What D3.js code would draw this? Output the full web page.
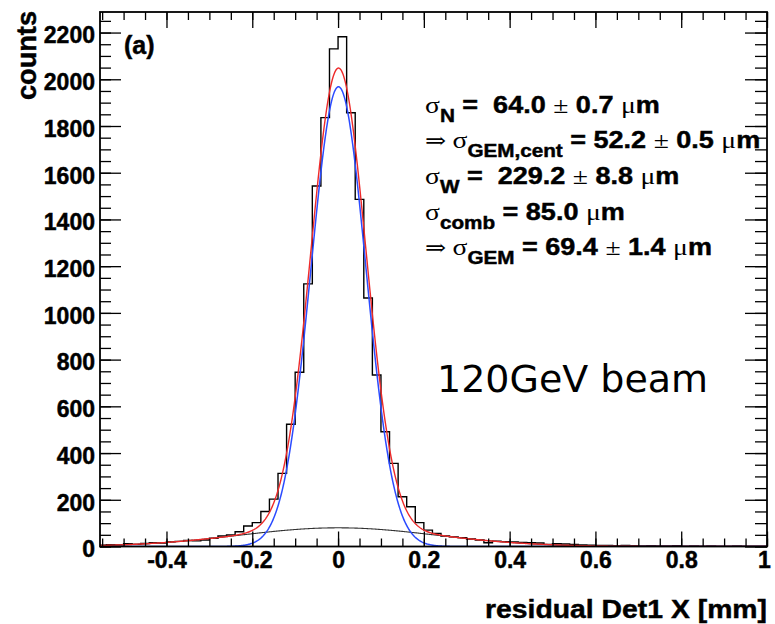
<!DOCTYPE html>
<html><head><meta charset="utf-8">
<script src="https://cdn.jsdelivr.net/npm/d3@7/dist/d3.min.js"></script>
<style>body{margin:0;background:#fff}svg{display:block}</style>
</head><body>
<svg id="c" width="775" height="624"></svg>
<script>
// ---------- data ----------
const binStart = -0.56;
const binWidth = 0.02;
const counts = [
  6, 8, 7, 12, 9, 13, 16, 15, 20, 22, 26, 24, 28, 35, 45, 49, 63, 88, 102, 150,
  203, 313, 523, 746, 1124, 1543, 1836, 2130,
  2182, 1857, 1486, 1064, 734, 491, 356, 213, 170, 102, 70, 56, 45, 41, 38, 32,
  28, 16, 23, 21, 20, 17, 16, 15, 9, 12, 11, 9, 7, 6, 4, 5, 3, 4, 3, 2, 3, 2, 2,
  3, 1, 2, 1, 2, 1, 1, 2, 1, 1, 1
];
const fitNarrow = { amp: 1968, mean: 0.001, sigma: 0.064 };
const fitWide   = { amp: 80,   mean: 0.0,   sigma: 0.229 };
const yTicks = [0, 200, 400, 600, 800, 1000, 1200, 1400, 1600, 1800, 2000, 2200];
const xTicks = [-0.4, -0.2, 0, 0.2, 0.4, 0.6, 0.8, 1.0];
const xTickLabels = ["-0.4", "-0.2", "0", "0.2", "0.4", "0.6", "0.8", "1"];
const xTitle = "residual Det1 X [mm]";
const yTitle = "counts";
const panelLabel = "(a)";
const beamLabel = "120GeV beam";
// annotation lines: s = symbol (serif), b = bold sans, sub = subscript
const annLines = [
  [["σ","s"],["N","sub"],[" =  64.0 ","b"],["±","s"],[" 0.7 ","b"],["μ","s"],["m","b"]],
  [["⇒ ","s"],["σ","s"],["GEM,cent","sub"],[" = 52.2 ","b"],["±","s"],[" 0.5 ","b"],["μ","s"],["m","b"]],
  [["σ","s"],["W","sub"],[" =  229.2 ","b"],["±","s"],[" 8.8 ","b"],["μ","s"],["m","b"]],
  [["σ","s"],["comb","sub"],[" = 85.0 ","b"],["μ","s"],["m","b"]],
  [["⇒ ","s"],["σ","s"],["GEM","sub"],[" = 69.4 ","b"],["±","s"],[" 1.4 ","b"],["μ","s"],["m","b"]]
];

// ---------- layout ----------
const P = { left: 100, right: 767, top: 12, bottom: 546.5 };
const SANS = "'Liberation Sans', Arial, Helvetica, sans-serif";
const SERIF = "'Liberation Serif', 'DejaVu Serif', serif";

const x = d3.scaleLinear().domain([-0.555, 1.0]).range([P.left, P.right]);
const y = d3.scaleLinear().domain([0, 2288]).range([P.bottom, P.top]);

const svg = d3.select("#c");
svg.append("rect").attr("width", 775).attr("height", 624).attr("fill", "#fff");
svg.append("defs").append("clipPath").attr("id", "clip")
  .append("rect").attr("x", P.left).attr("y", P.top)
  .attr("width", P.right - P.left).attr("height", P.bottom - P.top);

// histogram
const pts = [];
counts.forEach((c, i) => {
  const x0 = binStart + i * binWidth;
  pts.push([x0, c], [x0 + binWidth, c]);
});
const line = d3.line().x(d => x(d[0])).y(d => y(d[1]));
const gPlot = svg.append("g").attr("clip-path", "url(#clip)");
gPlot.append("path").attr("d", line(pts)).attr("fill", "none")
  .attr("stroke", "#000").attr("stroke-width", 1.4);

// fit curves
const gauss = (p, v) => p.amp * Math.exp(-((v - p.mean) ** 2) / (2 * p.sigma * p.sigma));
const xs = d3.range(-0.555, 1.0005, 0.0015);
const curve = f => d3.line().x(v => x(v)).y(v => y(f(v))).curve(d3.curveLinear)(xs);
gPlot.append("path").attr("d", curve(v => gauss(fitWide, v))).attr("fill", "none")
  .attr("stroke", "#333").attr("stroke-width", 1.1);
gPlot.append("path").attr("d", curve(v => gauss(fitNarrow, v))).attr("fill", "none")
  .attr("stroke", "#2b4bff").attr("stroke-width", 1.5);
gPlot.append("path").attr("d", curve(v => gauss(fitNarrow, v) + gauss(fitWide, v))).attr("fill", "none")
  .attr("stroke", "#ee2a2a").attr("stroke-width", 1.4);

// axes
const minorX = d3.range(-0.55, 1.0001, 0.05).map(v => +v.toFixed(2));
const minorY = d3.range(0, 2251, 50);
function styleAxis(g) {
  g.select(".domain").remove();
  g.selectAll("line").attr("stroke", "#000").attr("stroke-width", 1.3);
}
function heavy(sel) {
  sel.attr("stroke", "#000").attr("stroke-width", 0.45).attr("paint-order", "stroke");
}
// bottom
svg.append("g").attr("transform", `translate(0,${P.bottom})`)
  .call(d3.axisBottom(x).tickValues(minorX).tickSize(-8).tickFormat("")).call(styleAxis);
const gxb = svg.append("g").attr("transform", `translate(0,${P.bottom})`)
  .call(d3.axisBottom(x).tickValues(xTicks).tickSize(-15).tickPadding(5)
    .tickFormat((d, i) => xTickLabels[i])).call(styleAxis);
gxb.selectAll("text").attr("font-family", SANS).attr("font-weight", "bold")
  .attr("font-size", 23).attr("fill", "#000").call(heavy);
gxb.selectAll("text").filter(d => d === 1.0).attr("dx", -3);
// top
svg.append("g").attr("transform", `translate(0,${P.top})`)
  .call(d3.axisTop(x).tickValues(minorX).tickSize(-8).tickFormat("")).call(styleAxis);
svg.append("g").attr("transform", `translate(0,${P.top})`)
  .call(d3.axisTop(x).tickValues(xTicks).tickSize(-16).tickFormat("")).call(styleAxis);
// left
svg.append("g").attr("transform", `translate(${P.left},0)`)
  .call(d3.axisLeft(y).tickValues(minorY).tickSize(-11).tickFormat("")).call(styleAxis);
const gyl = svg.append("g").attr("transform", `translate(${P.left},0)`)
  .call(d3.axisLeft(y).tickValues(yTicks).tickSize(-21).tickPadding(5).tickFormat(d3.format("d")))
  .call(styleAxis);
gyl.selectAll("text").attr("font-family", SANS).attr("font-weight", "bold")
  .attr("font-size", 23).attr("fill", "#000").attr("dy", "0.45em").call(heavy);
// right
svg.append("g").attr("transform", `translate(${P.right},0)`)
  .call(d3.axisRight(y).tickValues(minorY).tickSize(-12).tickFormat("")).call(styleAxis);
svg.append("g").attr("transform", `translate(${P.right},0)`)
  .call(d3.axisRight(y).tickValues(yTicks).tickSize(-22).tickFormat("")).call(styleAxis);

// frame
svg.append("rect").attr("x", P.left).attr("y", P.top)
  .attr("width", P.right - P.left).attr("height", P.bottom - P.top)
  .attr("fill", "none").attr("stroke", "#000").attr("stroke-width", 1.8);

// titles
svg.append("text").attr("x", 767).attr("y", 618).attr("text-anchor", "end")
  .attr("font-family", SANS).attr("font-weight", "bold").attr("font-size", 26)
  .attr("textLength", 282).attr("lengthAdjust", "spacingAndGlyphs").text(xTitle).call(heavy);
svg.append("text").attr("transform", "translate(36,11) rotate(-90)").attr("text-anchor", "end")
  .attr("font-family", SANS).attr("font-weight", "bold").attr("font-size", 28)
  .attr("textLength", 89).attr("lengthAdjust", "spacingAndGlyphs").text(yTitle).call(heavy);
svg.append("text").attr("x", 124).attr("y", 54)
  .attr("font-family", SANS).attr("font-weight", "bold").attr("font-size", 25).text(panelLabel).call(heavy);

// annotation
const annX = 425, annBase = [113, 148, 184, 220, 255];
const gAnn = svg.append("g").attr("transform", `translate(${annX},0) scale(1.15,1) translate(${-annX},0)`);
annLines.forEach((segs, li) => {
  const t = gAnn.append("text").attr("x", annX).attr("y", annBase[li]).style("white-space", "pre");
  let shift = 0;
  segs.forEach(([str, kind]) => {
    const ts = t.append("tspan").text(str);
    const want = kind === "sub" ? 9 : 0;
    if (want !== shift) { ts.attr("dy", want - shift); shift = want; }
    if (kind === "s") ts.attr("font-family", SERIF).attr("font-size", str.includes("⇒") ? 22 : 24);
    else if (kind === "sub") ts.attr("font-family", SANS).attr("font-weight", "bold").attr("font-size", 18).call(heavy);
    else ts.attr("font-family", SANS).attr("font-weight", "bold").attr("font-size", 23.5).call(heavy);
  });
});

// beam label
svg.append("text").attr("x", 437).attr("y", 392)
  .attr("font-family", "'DejaVu Sans', sans-serif").attr("font-size", 37)
  .attr("textLength", 271).attr("lengthAdjust", "spacingAndGlyphs").text(beamLabel);
</script>
</body></html>
